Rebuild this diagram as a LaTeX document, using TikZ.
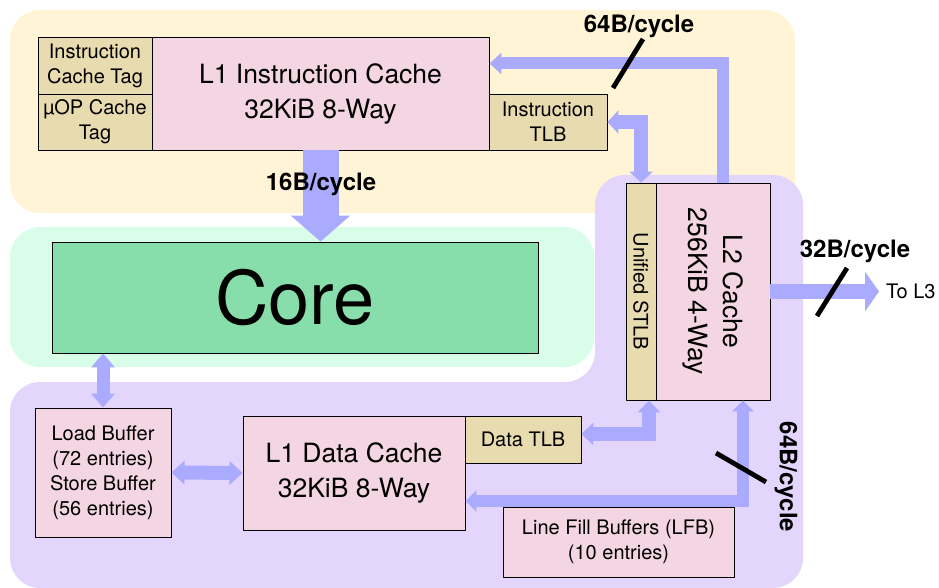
\documentclass[tikz,border=0pt]{standalone}
\usepackage{fontspec}
\setmainfont{TeX Gyre Heros}
\usetikzlibrary{arrows.meta}

\definecolor{fetchbg}{HTML}{FFF5D6}
\definecolor{corebg}{HTML}{D8FDE8}
\definecolor{membg}{HTML}{E3D5FC}
\definecolor{corefill}{HTML}{88DEAA}
\definecolor{cachefill}{HTML}{F3D6E2}
\definecolor{tagfill}{HTML}{E8DBB0}
\definecolor{busblue}{HTML}{AAAAFF}

\tikzset{
  cachebox/.style={draw=black, line width=0.9pt, fill=cachefill, inner sep=0pt, align=center},
  tagbox/.style={cachebox, fill=tagfill},
  bigtxt/.style={font=\fontsize{26.5}{35}\selectfont},
  smalltxt/.style={font=\fontsize{20}{25}\selectfont},
  rate/.style={font=\fontsize{24}{28}\selectfont\bfseries, inner sep=0pt},
  bus/.style n args={3}{color=busblue, line width=#1pt, line cap=butt, line join=miter,
    arrows={-Triangle[width=#2pt,length=#3pt]}},
  dbus/.style n args={3}{color=busblue, line width=#1pt, line cap=butt, line join=miter,
    arrows={Triangle[width=#2pt,length=#3pt]-Triangle[width=#2pt,length=#3pt]}},
  slash/.style={line width=4.8pt, line cap=butt}
}

\begin{document}
\begin{tikzpicture}[line cap=round,line join=round,x=1pt,y=-1pt]
  \useasboundingbox (0,0) rectangle (939,588);
  % zones
  \fill[fetchbg, rounded corners=30pt] (10,10) rectangle (795,213);
  \fill[corebg, rounded corners=30pt] (10,227) rectangle (594,367);
  \fill[membg, rounded corners=30pt] (10,588) -- (10,382) -- (595,382) -- (595,175)
    -- (803,175) -- (803,588) -- cycle;
  % front end
  \node[tagbox, smalltxt, minimum width=114pt, minimum height=57pt] (ictag) at (95,65.5) {Instruction\\Cache Tag};
  \node[tagbox, smalltxt, minimum width=114pt, minimum height=56pt] (uoptag) at (95,122) {µOP Cache\\Tag};
  \node[cachebox, bigtxt, minimum width=337pt, minimum height=113pt] (l1i) at (320.5,93.5) {L1 Instruction Cache\\32KiB 8-Way};
  \node[tagbox, smalltxt, minimum width=118pt, minimum height=56pt] (itlb) at (548,122) {Instruction\\TLB};
  % core
  \node[draw=black, line width=0.9pt, fill=corefill, minimum width=486pt, minimum height=111pt,
    font=\fontsize{74}{80}\selectfont] (core) at (295,297.5) {Core};
  % L2
  \node[tagbox, minimum width=30pt, minimum height=217pt,
    label={[rotate=-90, smalltxt]center:Unified STLB}] (stlb) at (641,291.5) {};
  \node[cachebox, minimum width=114pt, minimum height=217pt,
    label={[rotate=-90, bigtxt, align=center]center:{L2 Cache\\256KiB 4-Way}}] (l2) at (713,291.5) {};
  \node[smalltxt, anchor=west, inner sep=0pt] (l3) at (886,291.5) {To L3};
  % back end
  \node[cachebox, smalltxt, minimum width=136pt, minimum height=129pt] (lb) at (103,472.5) {Load Buffer\\(72 entries)\\Store Buffer\\(56 entries)};
  \node[cachebox, bigtxt, minimum width=222pt, minimum height=114pt] (l1d) at (354,473) {L1 Data Cache\\32KiB 8-Way};
  \node[tagbox, smalltxt, minimum width=116pt, minimum height=47pt] (dtlb) at (523,439.5) {Data TLB};
  \node[cachebox, smalltxt, minimum width=231pt, minimum height=70pt] (lfb) at (618.5,542) {Line Fill Buffers (LFB)\\(10 entries)};
  % buses
  \coordinate (ring) at (723,63.5);
  \coordinate (tlbbend) at (649,434);
  \coordinate (fillbend) at (743,501);
  \draw[bus={36}{58}{26}] (l1i.south) -- (l1i.south |- core.north);
  \draw[bus={12}{21}{12}] (ring |- l2.north) |- (l1i.east |- ring);
  \draw[dbus={14}{23}{11}] (itlb.east) -| (stlb.north);
  \draw[bus={15}{39}{14}, shorten >=7pt] (l2.east) -- (l3.west);
  \draw[dbus={13}{23}{14}] (lb.north |- core.south) -- (lb.north);
  \draw[dbus={14}{23}{13}] (lb.east) -- (l1d.west);
  \draw[dbus={14}{22}{12}] (dtlb.east |- tlbbend) -| (stlb.south -| tlbbend);
  \draw[dbus={12}{21}{11}] (l1d.east |- fillbend) -| (l2.south -| fillbend);
  % widths
  \draw[slash] (613,88) -- (643,39);
  \draw[slash] (817,316) -- (847,268);
  \draw[slash] (716,453) -- (766,482);
  \node[rate, anchor=base] (fetchrate) at (321,191) {16B/cycle};
  \node[rate, anchor=base] (fillrate) at (639,33) {64B/cycle};
  \node[rate, anchor=base] (l3rate) at (855,257) {32B/cycle};
  \node[rate, rotate=-90] (l1drate) at (786,477) {64B/cycle};
\end{tikzpicture}
\end{document}
